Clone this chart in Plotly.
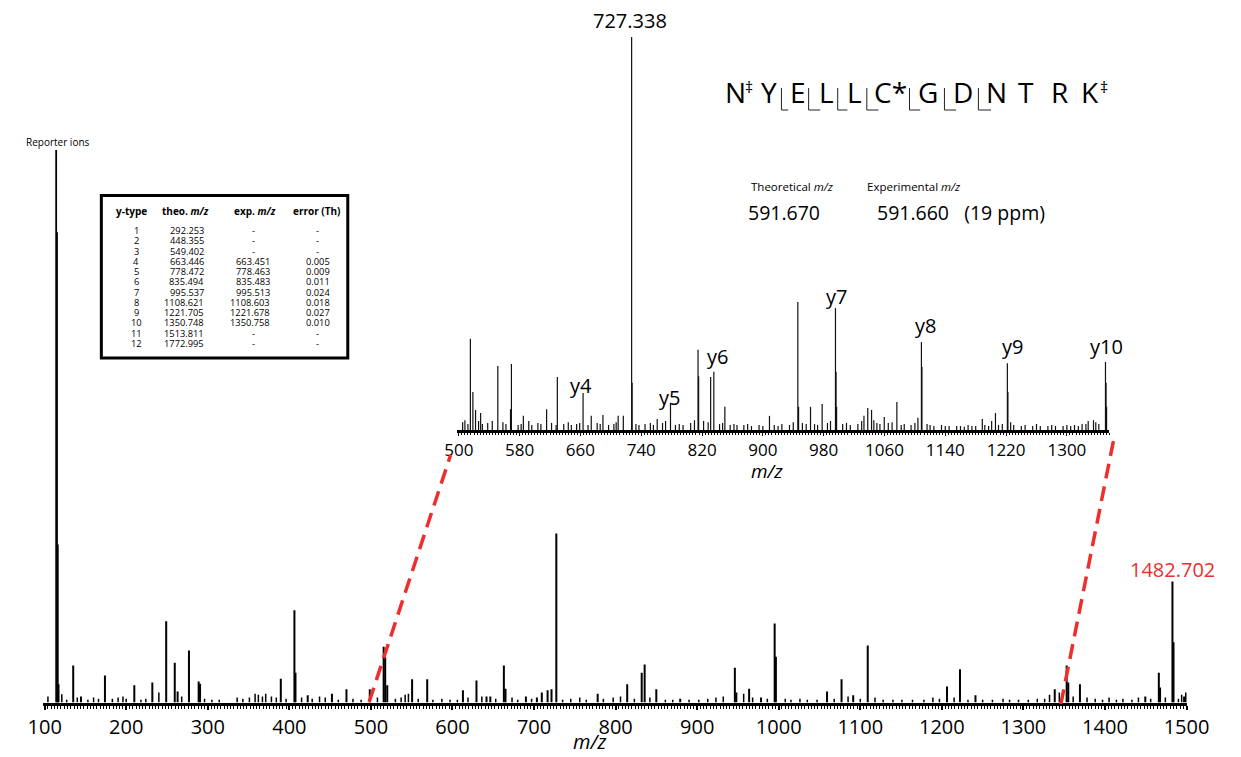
import plotly.graph_objects as go

W, H = 1241, 757

# ---------------- data ----------------
reporter_mz = [114.1, 115.1, 116.1, 117.1]
reporter_int = [100.0, 85.1, 28.6, 3.3]

main_mz = [135.0, 144.5, 173.9, 209.9, 232.0, 249.0, 259.5, 263.0, 276.9, 288.8,
           290.5, 389.5, 406.2, 407.5, 422.5, 452.2, 470.0, 498.6, 515.6, 517.5,
           520.0, 550.5, 569.0, 612.8, 629.4, 641.7, 646.4, 663.0, 665.0, 690.0,
           703.5, 709.5, 716.6, 721.4, 727.3, 778.0, 814.2, 832.0, 835.6, 849.9,
           879.2, 946.2, 948.0, 963.7, 978.3, 995.0, 996.5, 1059.2, 1077.0, 1091.3,
           1109.1, 1206.3, 1222.2, 1241.2, 1338.4, 1353.0, 1355.0, 1369.3, 1449.4, 1466.0,
           1467.5, 1482.7, 1484.0, 1497.0]
main_int = [6.7, 1.1, 4.9, 3.1, 3.6, 14.7, 7.2, 2.0, 9.4, 3.8,
            3.4, 4.3, 16.7, 5.4, 1.3, 1.6, 2.4, 2.4, 10.1, 8.2,
            3.1, 4.2, 4.2, 2.2, 4.0, 1.1, 1.1, 6.7, 2.5, 1.1,
            0.9, 1.8, 2.2, 2.4, 30.6, 1.6, 3.3, 5.4, 6.9, 2.4,
            0.7, 6.3, 1.8, 2.5, 0.9, 14.3, 8.3, 2.0, 4.2, 1.3,
            10.3, 2.9, 6.0, 1.3, 2.4, 6.7, 3.6, 3.3, 1.1, 5.4,
            2.7, 21.9, 10.9, 1.1]

main_noise_mz = [104, 121, 127, 140, 153, 160, 166, 183, 190, 196,
                 200, 218, 224, 240, 268, 296, 305, 314, 336, 343,
                 351, 358, 362, 367, 371, 378, 384, 396, 415, 428,
                 437, 444, 460, 478, 488, 508, 530, 537, 542, 546,
                 558, 576, 587, 597, 606, 619, 636, 653, 673, 680,
                 697, 735, 745, 756, 764, 785, 797, 806, 823, 842,
                 861, 870, 890, 902, 913, 923, 932, 957, 968, 986,
                 1008, 1015, 1026, 1035, 1047, 1068, 1085, 1100, 1118, 1128,
                 1140, 1151, 1164, 1178, 1189, 1197, 1215, 1232, 1250, 1262,
                 1275, 1283, 1294, 1306, 1317, 1326, 1332, 1344, 1361, 1378,
                 1388, 1397, 1405, 1414, 1422, 1433, 1441, 1456, 1474, 1490,
                 1494, 1499]
main_noise_int = [1.1, 1.5, 0.5, 0.9, 0.5, 0.9, 0.7, 0.7, 0.9, 1.1,
                  0.7, 0.5, 0.7, 1.8, 1.1, 0.7, 0.5, 0.5, 0.9, 0.7,
                  0.9, 1.6, 1.4, 1.1, 1.6, 1.1, 0.9, 0.7, 0.9, 0.7,
                  1.1, 0.9, 0.5, 0.7, 0.5, 0.9, 0.7, 0.9, 1.4, 1.6,
                  0.7, 0.5, 0.7, 0.5, 0.5, 0.9, 1.1, 0.7, 0.9, 0.5,
                  0.7, 0.5, 0.7, 0.9, 0.5, 0.7, 0.9, 1.1, 0.7, 0.9,
                  0.5, 0.5, 0.5, 0.5, 0.7, 0.9, 1.1, 1.6, 0.9, 0.7,
                  0.7, 0.5, 0.7, 0.5, 0.5, 0.7, 1.1, 0.7, 0.9, 0.5,
                  0.5, 0.5, 0.5, 0.5, 0.9, 0.7, 0.9, 0.5, 0.5, 0.5,
                  0.7, 0.5, 0.5, 0.5, 0.7, 0.7, 1.4, 1.8, 1.1, 0.9,
                  0.7, 0.5, 0.9, 0.5, 0.7, 0.5, 0.9, 0.7, 0.9, 0.7,
                  1.4, 1.8]

inset_mz = [515.2, 518.5, 528.7, 551.3, 568.0, 569.2, 584.9, 615.5, 629.6, 663.451,
            674.2, 689.6, 709.6, 716.4, 727.338, 728.0, 761.0, 778.463, 814.7, 815.5,
            831.3, 835.483, 850.0, 908.7, 946.0, 947.0, 962.7, 978.0, 995.513, 996.3,
            997.0, 1038.0, 1043.0, 1059.7, 1076.3, 1108.603, 1109.3, 1188.7, 1206.0, 1221.678,
            1222.4, 1335.0, 1350.758, 1351.5, 1352.2]
inset_int = [23.2, 9.7, 4.3, 16.3, 5.3, 16.8, 3.6, 5.3, 13.5, 9.4,
             3.6, 3.8, 3.6, 3.6, 100.0, 12.0, 2.8, 6.9, 20.4, 13.7,
             13.5, 14.8, 5.9, 3.6, 32.6, 5.9, 5.9, 6.6, 31.0, 14.8,
             5.9, 5.6, 5.1, 3.3, 7.1, 22.4, 16.0, 2.8, 4.3, 17.0,
             9.7, 2.5, 17.3, 12.0, 5.9]

inset_noise_mz = [505, 508, 512, 522, 526, 531, 538, 544, 558, 562,
                  578, 582, 592, 596, 604, 608, 622, 628, 638, 644,
                  648, 655, 659, 670, 682, 686, 697, 704, 707, 733,
                  737, 745, 752, 756, 768, 772, 785, 790, 795, 805,
                  810, 822, 828, 843, 847, 857, 862, 866, 875, 880,
                  885, 895, 900, 915, 920, 925, 935, 940, 952, 957,
                  968, 972, 985, 989, 1005, 1010, 1015, 1025, 1030, 1033,
                  1046, 1050, 1054, 1065, 1070, 1082, 1086, 1095, 1100, 1104,
                  1116, 1120, 1125, 1135, 1140, 1145, 1155, 1160, 1165, 1170,
                  1175, 1180, 1192, 1197, 1201, 1210, 1215, 1226, 1230, 1240,
                  1245, 1255, 1260, 1265, 1275, 1280, 1285, 1295, 1300, 1305,
                  1310, 1315, 1320, 1325, 1328, 1338, 1342]
inset_noise_int = [2.0, 2.5, 1.5, 5.1, 2.3, 1.5, 1.8, 2.3, 2.0, 1.5,
                   1.3, 1.5, 2.3, 1.3, 1.8, 1.5, 1.8, 1.3, 1.5, 2.0,
                   1.3, 1.5, 1.8, 1.3, 1.8, 1.5, 1.3, 1.5, 2.0, 1.5,
                   1.3, 1.5, 1.8, 1.3, 1.8, 2.3, 1.3, 1.5, 1.3, 1.8,
                   2.5, 2.3, 2.0, 1.5, 1.8, 1.3, 1.5, 1.3, 1.3, 1.5,
                   1.0, 1.3, 1.0, 1.3, 1.0, 1.5, 1.3, 2.0, 1.8, 1.5,
                   1.5, 1.3, 1.8, 2.3, 1.5, 1.8, 1.3, 1.5, 2.3, 3.6,
                   2.5, 1.8, 1.5, 1.8, 2.0, 1.3, 1.5, 1.3, 1.8, 3.1,
                   1.5, 1.3, 1.0, 1.3, 1.0, 1.0, 1.0, 1.0, 0.8, 1.3,
                   1.0, 1.0, 1.3, 1.0, 2.3, 1.3, 1.5, 2.0, 1.3, 1.0,
                   1.3, 1.0, 1.5, 1.0, 1.0, 1.3, 1.0, 1.0, 1.3, 1.0,
                   1.3, 1.0, 1.5, 1.5, 2.3, 2.0, 1.5]

ion_labels = ["y4", "y5", "y6", "y7", "y8", "y9", "y10"]
ion_mz = [663.451, 778.463, 835.483, 995.513, 1108.603, 1221.678, 1350.758]

table_ytype = list(range(1, 13))
table_theo = [292.253, 448.355, 549.402, 663.446, 778.472, 835.494, 995.537,
              1108.621, 1221.705, 1350.748, 1513.811, 1772.995]
table_exp = [None, None, None, 663.451, 778.463, 835.483, 995.513,
             1108.603, 1221.678, 1350.758, None, None]
table_err = [None, None, None, 0.005, 0.009, 0.011, 0.024, 0.018, 0.027, 0.010, None, None]

peptide = ["N", "Y", "E", "L", "L", "C*", "G", "D", "N", "T", "R", "K"]

base_peak_label = "727.338"
precursor_label = "1482.702"

# -------------- helpers --------------
def px(x):
    return x / W

def py(y):
    return 1 - y / H

def sticks(mz, inten):
    xs, ys = [], []
    for m, h in zip(mz, inten):
        xs += [m, m, None]
        ys += [0, h, None]
    return xs, ys

fig = go.Figure()

FONT = "Open Sans"

# main spectrum
for mzs, ints, w in [(main_noise_mz, main_noise_int, 1.5),
                     (main_mz, main_int, 2.0),
                     (reporter_mz, reporter_int, 1.8)]:
    xs, ys = sticks(mzs, ints)
    fig.add_trace(go.Scatter(x=xs, y=ys, mode="lines", line=dict(color="black", width=w),
                             xaxis="x", yaxis="y", hoverinfo="skip", showlegend=False))

# inset spectrum
for mzs, ints, w in [(inset_noise_mz, inset_noise_int, 1.2),
                     (inset_mz, inset_int, 1.2)]:
    xs, ys = sticks(mzs, ints)
    fig.add_trace(go.Scatter(x=xs, y=ys, mode="lines", line=dict(color="#111111", width=w),
                             xaxis="x2", yaxis="y2", hoverinfo="skip", showlegend=False))

annotations = []

def ann(text, x, y, size, xanchor="center", yanchor="middle", color="black", xref="paper", yref="paper", xshift=0, family=FONT):
    annotations.append(dict(text=text, x=x, y=y, xref=xref, yref=yref, showarrow=False,
                            xanchor=xanchor, yanchor=yanchor, xshift=xshift,
                            font=dict(size=size, color=color, family=family)))

# axis titles
ann("<i>m/z</i>", px(592), py(741), 20)
ann("<i>m/z</i>", px(775), py(471), 19)

# peak labels
ann(base_peak_label, px(634), py(21), 20)
ann(precursor_label, px(1193), py(569), 20, color="#E8302F")
ann("Reporter ions", px(44), py(142), 10)

ion_label_y = [386, 397, 356, 296, 326, 347, 347]
ion_label_shift = [-2, -1, 4, 1, 4, 5, 1]
for lab, m, yy, sh in zip(ion_labels, ion_mz, ion_label_y, ion_label_shift):
    ann(lab, m, py(yy), 20, xref="x2", xshift=sh)

# precursor info
ann("Theoretical <i>m/z</i>", px(757), py(187), 11.5, xanchor="left")
ann("Experimental <i>m/z</i>", px(876), py(187), 11.5, xanchor="left")
ann("591.670", px(753), py(213), 19.5, xanchor="left")
ann("591.660&nbsp;&nbsp;&nbsp;(19 ppm)", px(886), py(213), 19.5, xanchor="left")

# peptide sequence
pep_x = [742.5, 777.5, 806.7, 836.7, 865, 902.5, 941, 977.5, 1011.7, 1041.7, 1076.7, 1108.5]
for aa, xx in zip(peptide, pep_x):
    ann(aa, px(xx), py(92), 28)
ann("‡", px(757), py(87), 16)
ann("‡", px(1122), py(87), 16)

shapes = []
brk_v = [790, 818, 848, 878, 922, 958, 993]
brk_h = [797, 830, 858, 890, 933, 970, 1006]
for xv, xh in zip(brk_v, brk_h):
    shapes.append(dict(type="line", xref="paper", yref="paper", x0=px(xv), x1=px(xv), y0=py(88), y1=py(110),
                       line=dict(color="#222", width=1)))
    shapes.append(dict(type="line", xref="paper", yref="paper", x0=px(xv), x1=px(xh), y0=py(110), y1=py(110),
                       line=dict(color="#222", width=1)))

# table
shapes.append(dict(type="rect", xref="paper", yref="paper", x0=px(89), x1=px(343), y0=py(195.5), y1=py(358),
                   line=dict(color="black", width=3), fillcolor="white", layer="below"))
ann("<b>y-type</b>", px(120), py(211.5), 10)
ann("<b>theo. <i>m/z</i></b>", px(176), py(211.5), 10)
ann("<b>exp. <i>m/z</i></b>", px(247), py(211.5), 10)
ann("<b>error (Th)</b>", px(311), py(211.5), 10)
for i, (n, t, e, er) in enumerate(zip(table_ytype, table_theo, table_exp, table_err)):
    yy = py(230.7 + i * 10.24)
    ann(str(n), px(125), yy, 9.3)
    ann(f"{t:.3f}", px(197), yy, 9.3, xanchor="right")
    if e is None:
        ann("-", px(246), yy, 9.3)
    else:
        ann(f"{e:.3f}", px(265), yy, 9.3, xanchor="right")
    if er is None:
        ann("-", px(312), yy, 9.3)
    else:
        ann(f"{er:.3f}", px(312), yy, 9.3)

# red zoom lines
red = "#EE2D2D"
shapes.append(dict(type="line", xref="paper", yref="paper", x0=px(365), y0=py(702), x1=px(449), y1=py(455),
                   line=dict(color=red, width=3.5, dash="15px,8px")))
shapes.append(dict(type="line", xref="paper", yref="paper", x0=px(1078), y0=py(704), x1=px(1133), y1=py(437),
                   line=dict(color=red, width=3.5, dash="15px,8px")))

fig.update_layout(
    width=W, height=H, autosize=False,
    margin=dict(l=0, r=0, t=0, b=0),
    paper_bgcolor="white", plot_bgcolor="rgba(0,0,0,0)",
    font=dict(family=FONT, color="black"),
    showlegend=False,
    annotations=annotations,
    shapes=shapes,
    xaxis=dict(domain=[px(28.9), px(1208.4)], range=[98, 1501], anchor="y",
               showline=True, linecolor="black", linewidth=3, showgrid=False, zeroline=False,
               tickmode="linear", tick0=100, dtick=100, ticks="outside", ticklen=4, tickwidth=1.5,
               tickcolor="black", tickfont=dict(size=20, family=FONT),
               minor=dict(ticks="outside", ticklen=3, tickwidth=1, tickcolor="black", tick0=100, dtick=4, showgrid=False)),
    yaxis=dict(domain=[py(702.5), py(150)], range=[0, 100], anchor="x", visible=False),
    xaxis2=dict(domain=[px(455.9), px(1128.1)], range=[498, 1356], anchor="y2",
                showline=True, linecolor="black", linewidth=2.5, showgrid=False, zeroline=False,
                tickmode="linear", tick0=500, dtick=80, ticks="outside", ticklen=3, tickwidth=1,
                tickcolor="black", tickfont=dict(size=17, family=FONT),
                minor=dict(ticks="outside", ticklen=2, tickwidth=1, tickcolor="black", tick0=500, dtick=4, showgrid=False)),
    yaxis2=dict(domain=[py(430), py(37)], range=[0, 100], anchor="x2", visible=False),
)

fig.write_html("out.html", config={"displayModeBar": False})
